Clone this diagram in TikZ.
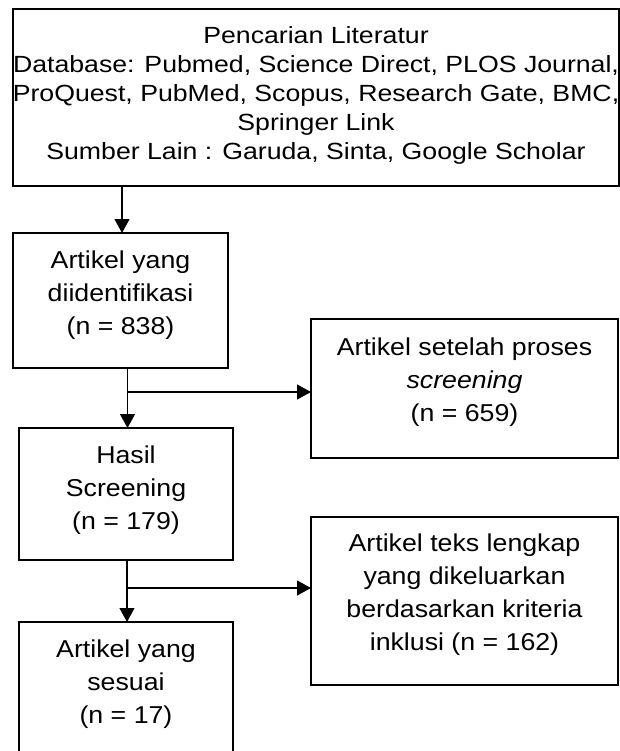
\documentclass[tikz,border=0pt]{standalone}
\usepackage{fontspec}
\setmainfont{Liberation Sans}
\newfontfamily\topfont{Liberation Sans}[FakeStretch=1.14]
\newfontfamily\boxfont{Liberation Sans}[FakeStretch=1.095]
\usetikzlibrary{arrows.meta}
\begin{document}
\begin{tikzpicture}[x=1pt,y=-1pt,
  box/.style={draw=black, line width=1.2pt, inner sep=0pt, outer sep=0pt, anchor=north west},
  toptxt/.style={inner sep=0pt, anchor=north, align=center, font={\topfont\fontsize{23.4}{29}\selectfont}},
  txt/.style={inner sep=0pt, anchor=north, align=center, font={\boxfont\fontsize{24.4}{33}\selectfont}},
  line/.style={draw=black, line width=1.2pt},
  arr/.style={line, -{Triangle[width=15pt,length=14pt]}}]
\useasboundingbox (0,0) rectangle (620,751);
\clip (0,0) rectangle (620,751);
% boxes
\node[box, minimum width=606pt, minimum height=177pt] (top) at (13,9) {};
\node[box, minimum width=215pt, minimum height=135pt] (b2) at (13,233) {};
\node[box, minimum width=307pt, minimum height=139pt] (r1) at (311,319) {};
\node[box, minimum width=214pt, minimum height=132pt] (b3) at (19,428) {};
\node[box, minimum width=307pt, minimum height=168pt] (r2) at (311,517) {};
\node[box, minimum width=214pt, minimum height=140pt] (b4) at (19,622) {};
% texts
\node[toptxt] (ttop) at (316,26.2) {Pencarian Literatur\\Database: Pubmed, Science Direct, PLOS Journal,\\ProQuest, PubMed, Scopus, Research Gate, BMC,\\Springer Link\\Sumber Lain : Garuda, Sinta, Google Scholar};
\node[txt] (tb2) at (120.5,250.5) {Artikel yang\\diidentifikasi\\(n = 838)};
\node[txt] (tr1) at (464.5,337.5) {Artikel setelah proses\\\textit{screening}\\(n = 659)};
\node[txt] (tb3) at (126,445.5) {Hasil\\Screening\\(n = 179)};
\node[txt] (tr2) at (464.5,534) {Artikel teks lengkap\\yang dikeluarkan\\berdasarkan kriteria\\inklusi (n = 162)};
\node[txt] (tb4) at (126,639.5) {Artikel yang\\sesuai\\(n = 17)};
% connectors
\coordinate (j0) at (122,186);
\draw[arr] (j0) -- (j0 |- b2.north);
\coordinate (j1) at (127.5,392);
\draw[arr] (j1 |- b2.south) -- (j1 |- b3.north);
\draw[arr] (j1) -- (j1 -| r1.west);
\coordinate (j2) at (127,588);
\draw[arr] (j2 |- b3.south) -- (j2 |- b4.north);
\draw[arr] (j2) -- (j2 -| r2.west);
\end{tikzpicture}
\end{document}
